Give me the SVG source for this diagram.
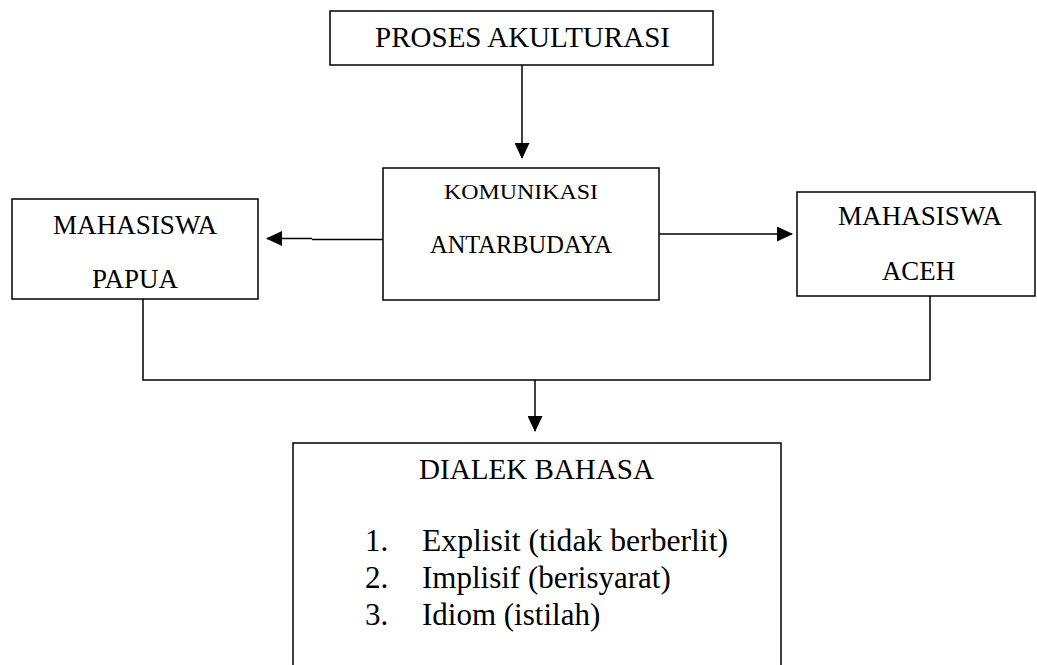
<svg xmlns="http://www.w3.org/2000/svg" width="1037" height="665" viewBox="0 0 1037 665">
<style>
.box{fill:#fff;stroke:#000;stroke-width:1.5}
.ln{fill:none;stroke:#000;stroke-width:1.5}
.c{text-anchor:middle}
</style>
<defs>
<marker id="ah" markerWidth="16" markerHeight="15" refX="15" refY="7.5" orient="auto" markerUnits="userSpaceOnUse">
<path d="M0,0 L16,7.5 L0,15 Z" fill="#000"/>
</marker>
</defs>
<rect width="1037" height="665" fill="#fff"/>
<g id="connectors">
<line class="ln" x1="522" y1="65" x2="522" y2="158" marker-end="url(#ah)"/>
<line class="ln" x1="383" y1="239.5" x2="312" y2="239.5"/>
<line class="ln" x1="312" y1="238.5" x2="267" y2="238.5" stroke-width="2" marker-end="url(#ah)"/>
<line class="ln" x1="659" y1="234" x2="748" y2="234"/>
<line class="ln" x1="748" y1="234" x2="792" y2="234" stroke-width="2" marker-end="url(#ah)"/>
<polyline class="ln" points="143,299 143,380 930,380 930,296"/>
<line class="ln" x1="535" y1="380" x2="535" y2="431" marker-end="url(#ah)"/>
</g>
<g font-family="'Liberation Serif', 'DejaVu Serif', 'Times New Roman', serif" fill="#000">
<g id="node-proses">
<rect class="box" x="330" y="11" width="383" height="54"/>
<text class="c" x="522.5" y="47" font-size="28.5" textLength="295" lengthAdjust="spacingAndGlyphs">PROSES AKULTURASI</text>
</g>
<g id="node-komunikasi">
<rect class="box" x="383" y="168" width="276" height="132"/>
<text class="c" x="521" y="199" font-size="21.5" textLength="154" lengthAdjust="spacingAndGlyphs">KOMUNIKASI</text>
<text class="c" x="521" y="253" font-size="25" textLength="182" lengthAdjust="spacingAndGlyphs">ANTARBUDAYA</text>
</g>
<g id="node-papua">
<rect class="box" x="12" y="199" width="246" height="100"/>
<text class="c" x="135" y="234" font-size="26.5" textLength="164" lengthAdjust="spacingAndGlyphs">MAHASISWA</text>
<text class="c" x="135" y="288" font-size="26.5" textLength="86" lengthAdjust="spacingAndGlyphs">PAPUA</text>
</g>
<g id="node-aceh">
<rect class="box" x="797" y="192" width="238" height="104"/>
<text class="c" x="920" y="225" font-size="26.5" textLength="164" lengthAdjust="spacingAndGlyphs">MAHASISWA</text>
<text class="c" x="918.5" y="280" font-size="26.5" textLength="73" lengthAdjust="spacingAndGlyphs">ACEH</text>
</g>
<g id="node-dialek">
<polyline class="ln" points="293,670 293,443 781,443 781,670"/>
<text class="c" x="536.5" y="479" font-size="29" textLength="235" lengthAdjust="spacingAndGlyphs">DIALEK BAHASA</text>
<text x="365" y="551" font-size="31">1.</text>
<text x="422" y="551" font-size="31" textLength="306" lengthAdjust="spacingAndGlyphs">Explisit (tidak berberlit)</text>
<text x="365" y="588" font-size="31">2.</text>
<text x="422" y="588" font-size="31">Implisif (berisyarat)</text>
<text x="365" y="625" font-size="31">3.</text>
<text x="422" y="625" font-size="31">Idiom (istilah)</text>
</g>
</g>
</svg>
